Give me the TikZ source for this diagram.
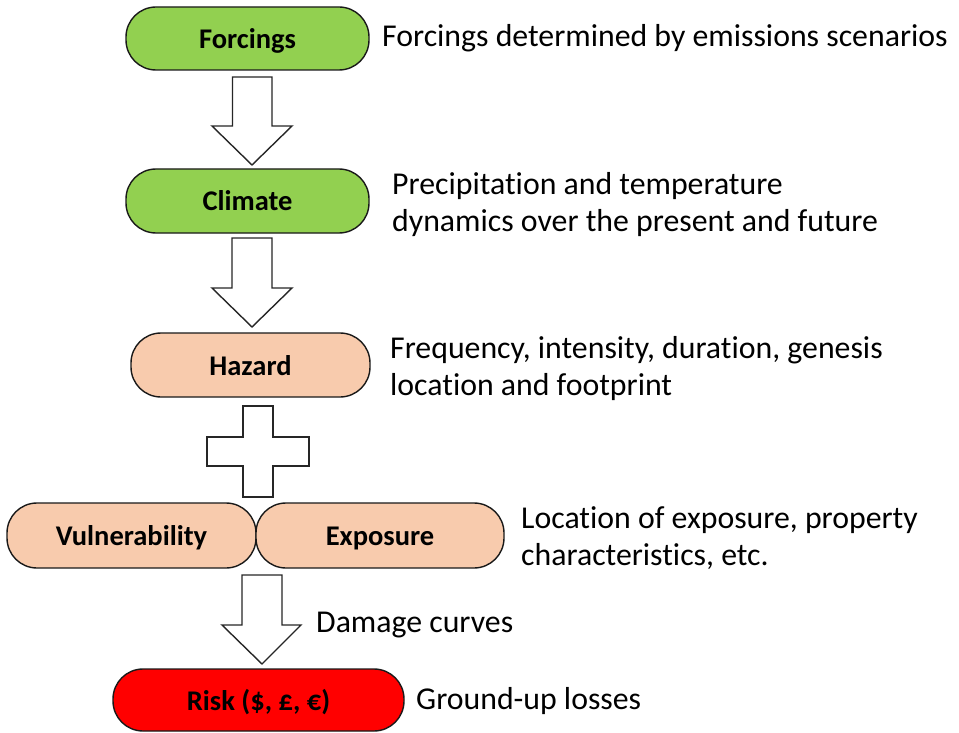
\documentclass[tikz,border=0pt]{standalone}
\usepackage{fontspec}
\setmainfont{Carlito}[Ligatures=NoCommon]
\begin{document}
\begin{tikzpicture}[x=1pt,y=-1pt,
  pill/.style={draw=black!90, line width=1.4pt, rounded corners=30pt, inner sep=0pt,
    text height=21pt, text depth=1pt,
    font=\fontsize{28.5}{33}\selectfont\bfseries},
  desc/.style={anchor=base west, inner sep=0pt, align=left, font=\fontsize{31.8}{37}\selectfont},
  blk/.style={draw=black!85, line width=1.4pt, fill=white, line join=miter}]
\definecolor{gfill}{HTML}{92D050}
\definecolor{pfill}{HTML}{F8CBAD}
\definecolor{rfill}{HTML}{FF0000}
\useasboundingbox (0,0) rectangle (959,733);
% boxes
\node[pill, fill=gfill, minimum width=243pt, minimum height=63pt] (forc) at (247.5,38.5) {Forcings};
\node[pill, fill=gfill, minimum width=243pt, minimum height=64pt] (clim) at (247.5,201) {Climate};
\node[pill, fill=pfill, minimum width=239pt, minimum height=64pt] (haz) at (250.5,365) {Hazard};
\node[pill, fill=pfill, minimum width=249pt, minimum height=65pt] (vul) at (131.5,535.5) {Vulnerability};
\node[pill, fill=pfill, minimum width=248pt, minimum height=65pt] (exp) at (380,535.5) {Exposure};
\node[pill, fill=rfill, minimum width=291pt, minimum height=62pt] (risk) at (258.5,700) {Risk (\$, £, €)};
% block arrows
\draw[blk] (232.5,77) -- (272,77) -- (272,126) -- (292,126) -- (252,165) -- (212,126) -- (232.5,126) -- cycle;
\draw[blk] (232,238) -- (272,238) -- (272,288) -- (292,288) -- (252,327) -- (212,288) -- (232,288) -- cycle;
\draw[blk] (242,575) -- (282,575) -- (282,625) -- (301,625) -- (262,664) -- (222,625) -- (242,625) -- cycle;
% plus
\draw[blk] (243,406) -- (273,406) -- (273,437) -- (309,437) -- (309,466) -- (273,466) -- (273,497) -- (243,497) -- (243,466) -- (207,466) -- (207,437) -- (243,437) -- cycle;
% descriptions
\node[desc] (t1) at (382,47) {Forcings determined by emissions scenarios};
\node[desc] (t2) at (392,231) {Precipitation and temperature\\dynamics over the present and future};
\node[desc] (t3) at (390,395.5) {Frequency, intensity, duration, genesis\\location and footprint};
\node[desc] (t4) at (521,565) {Location of exposure, property\\characteristics, etc.};
\node[desc] (t5) at (316,632) {Damage curves};
\node[desc] (t6) at (416,709) {Ground-up losses};
\end{tikzpicture}
\end{document}
